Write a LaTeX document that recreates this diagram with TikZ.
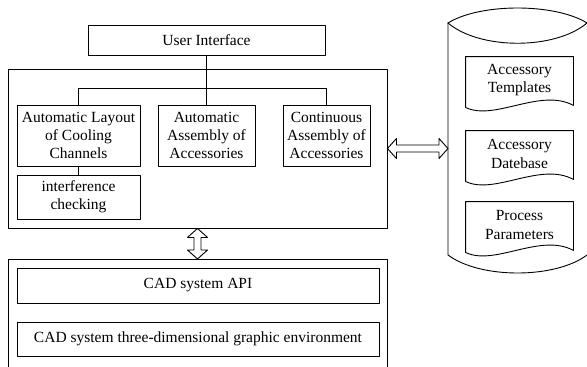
\documentclass[tikz,border=0pt]{standalone}
\usepackage{fontspec}
\setmainfont{Liberation Serif}
\usetikzlibrary{calc}
\usetikzlibrary{positioning}

\begin{document}
\begin{tikzpicture}[line cap=round,line join=round,x=1pt,y=-1pt,line width=0.9pt,
  every node/.style={font=\fontsize{15.5}{18.3}\selectfont},
  box/.style={draw=black, align=center, inner sep=0pt},
  docnode/.style={align=center, inner sep=0pt, minimum width=107, minimum height=46}]
\useasboundingbox (0,0) rectangle (587,367);
% frames
\node[box, minimum width=379, minimum height=159] (main) at (197.5,148.5) {};
\draw[color=black] (8,367) |- (387,259) -- (387,367);
\coordinate (cadtop) at (197.5,259);
% user interface and modules
\node[box, minimum width=237, minimum height=30] (ui) at (206.5,40) {User Interface};
\node[box, minimum width=123, minimum height=61] (layout) at (78.5,135.5) {Automatic Layout\\of Cooling\\Channels};
\node[box, minimum width=97, minimum height=61] (assembly) at (206.5,135.5) {Automatic\\Assembly of\\Accessories};
\node[box, minimum width=87, minimum height=61] (contin) at (326.5,135.5) {Continuous\\Assembly of\\Accessories};
\node[box, minimum width=123, minimum height=44] (check) at (78.5,197) {interference\\checking};
\coordinate (bus) at (0,88);
\draw[color=black] (ui.south) -- (assembly.north);
\draw[color=black] (layout.north) |- (bus -| contin.north) -- (contin.north);
\draw[color=black] (layout.south) -- (check.north);
% CAD
\node[box, minimum width=362, minimum height=35] (api) at (198,285.5) {CAD system API};
\node[box, minimum width=362, minimum height=34] (env) at (198,339) {CAD system three-dimensional graphic environment};
% database
\draw[color=black] (448,23) .. controls (480,3) and (555,3) .. (587,23);
\draw[color=black] (448,23) .. controls (480,50) and (555,50) .. (587,23);
\draw[color=black] (448,23) -- (448,255) .. controls (480,279) and (555,279) .. (587,255);
\coordinate (dbside) at (448,148.5);
\node[docnode] (templ) at (519.5,80) {Accessory\\Templates};
\node[docnode] (dbase) at (519.5,154) {Accessory\\Datebase};
\node[docnode] (param) at (519.5,225) {Process\\Parameters};
\foreach \d in {templ,dbase,param}
\draw[color=black] (\d.south west) -- (\d.north west) -- (\d.north east) -- ($(\d.south east)+(0,2)$) .. controls ($(\d.south east)+(-33,-16)$) and ($(\d.south west)+(29,18)$) .. ($(\d.south west)+(0,4)$) -- cycle;
% double arrows
\draw[color=black, fill=white] (main.east) -- ++(9,-10) -- ++(0,6.5) -- ($(dbside)+(-9,-3.5)$) -- ++(0,-6.5) -- (dbside) -- ++(-9,10) -- ++(0,-6.5) -- ($(main.east)+(9,3.5)$) -- ++(0,6.5) -- cycle;
\draw[color=black, fill=white] (main.south) -- ++(-10,9) -- ++(6.5,0) -- ($(cadtop)+(-3.5,-9)$) -- ++(-6.5,0) -- (cadtop) -- ++(10,-9) -- ++(-6.5,0) -- ($(main.south)+(3.5,9)$) -- ++(6.5,0) -- cycle;
\end{tikzpicture}
\end{document}
